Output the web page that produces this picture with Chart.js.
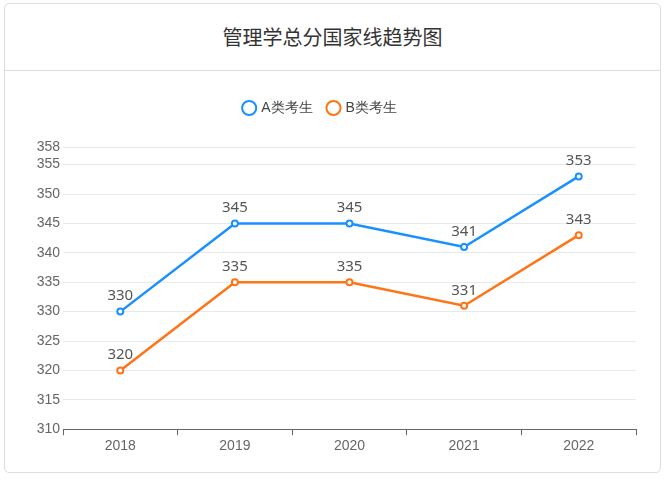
<!DOCTYPE html>
<html><head><meta charset="utf-8">
<script src="https://cdn.jsdelivr.net/npm/chart.js@4"></script>
<style>
body{margin:0;background:#fff;font-family:"Noto Sans CJK SC","Noto Sans",sans-serif}
#card{position:absolute;left:4px;top:3px;width:657px;height:470px;border:1px solid #ddd;border-radius:5px;box-sizing:border-box}
#hd{height:66px;border-bottom:1px solid #ddd;text-align:center;line-height:66px;font-size:20px;color:#333}
#wrap{position:absolute;left:0;top:67px;width:655px;height:401px}
</style></head><body>
<div id="card"><div id="hd">管理学总分国家线趋势图</div><div id="wrap"><canvas id="c"></canvas></div></div>
<script>
const categories=["2018","2019","2020","2021","2022"];
const seriesA=[330,345,345,341,353];
const seriesB=[320,335,335,331,343];
const names=["A类考生","B类考生"];
const labelPlugin={id:'lbl',afterDatasetsDraw(ch){const c=ch.ctx;c.save();c.font='15px "Noto Sans", sans-serif';c.fillStyle='#555';c.textAlign='center';c.textBaseline='bottom';
ch.data.datasets.forEach((d,i)=>{ch.getDatasetMeta(i).data.forEach((p,j)=>c.fillText(d.data[j],p.x,p.y-8));});c.restore();}};
const legendSpace={id:'lsp',beforeInit(ch){const f=ch.legend.fit;ch.legend.fit=function(){f.call(this);this.height+=22;};}};
new Chart(document.getElementById('c'),{type:'line',
data:{labels:categories,datasets:[
{label:names[0],data:seriesA,borderColor:'#1890ff',backgroundColor:'#fff',borderWidth:2.5,pointRadius:3,pointBorderWidth:2,tension:0},
{label:names[1],data:seriesB,borderColor:'#ff7417',backgroundColor:'#fff',borderWidth:2.5,pointRadius:3,pointBorderWidth:2,tension:0}]},
options:{responsive:true,maintainAspectRatio:false,animation:false,
layout:{padding:{left:0,right:24,top:14,bottom:14}},
plugins:{legend:{labels:{usePointStyle:true,pointStyle:'circle',boxWidth:10,boxHeight:10,font:{size:14},color:'#444',padding:16}},tooltip:{enabled:false}},
scales:{x:{offset:true,grid:{display:true,offset:true,drawOnChartArea:false,tickLength:6,color:'#666'},border:{color:'#666'},ticks:{color:'#666',font:{size:14}}},
y:{min:310,max:358,ticks:{stepSize:5,color:'#666',font:{size:14},autoSkip:false},grid:{color:'#e6e9f0',drawTicks:false},border:{display:false},afterFit(s){s.width=58;}}}},
plugins:[labelPlugin,legendSpace]});
</script></body></html>
